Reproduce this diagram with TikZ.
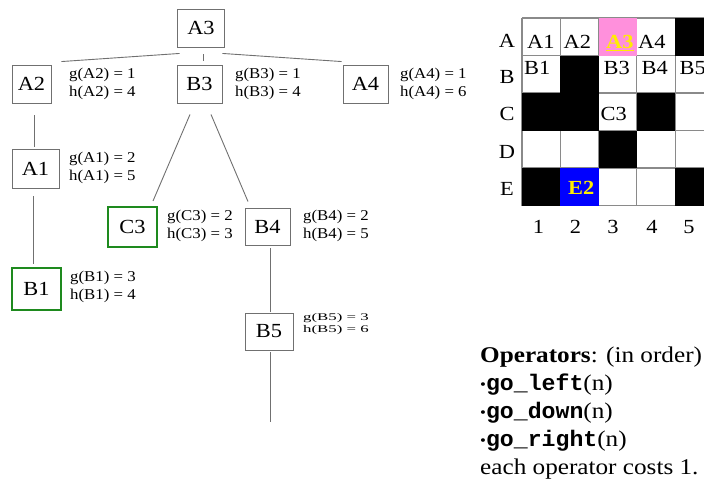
\documentclass[tikz,border=0pt]{standalone}
\usepackage{fontspec}
\usepackage{graphicx}
\setmainfont[FakeStretch=1.12]{Liberation Serif}
\setmonofont[FakeStretch=1.03]{Liberation Mono}
\newcommand\fbx{\fontsize{20}{22}\selectfont}
\newcommand\flab{\fontsize{15}{18}\selectfont}
\newcommand\fop{\fontsize{22.5}{28}\selectfont}
\newcommand\bul{\raisebox{0.5pt}{\fontsize{15}{15}\selectfont •}}
\definecolor{boxgray}{HTML}{707070}
\definecolor{edgegray}{HTML}{707070}
\definecolor{gridgray}{HTML}{8A8A8A}
\definecolor{goalgreen}{HTML}{1E8A1E}
\definecolor{cellpink}{HTML}{FF90DC}
\definecolor{cellblue}{HTML}{0000FF}
\definecolor{txtyellow}{HTML}{FFEE00}
\tikzset{
 bx/.style={draw=boxgray, line width=0.9pt, minimum width=45, minimum height=38, inner sep=0, font=\fbx, fill=white},
 goal/.style={bx, draw=goalgreen, line width=2pt},
 lab/.style={anchor=west, align=left, inner sep=0, font=\flab},
 edge/.style={draw=edgegray, line width=0.9pt},
 gridline/.style={draw=gridgray, line width=1.1pt},
 celltxt/.style={anchor=base west, inner sep=0, font=\fbx},
 axislab/.style={anchor=base, inner sep=0, font=\fbx},
 opline/.style={anchor=base west, inner sep=0, font=\fop},
}
\begin{document}
\begin{tikzpicture}[x=1pt,y=-1pt]
\useasboundingbox (0,0) rectangle (704,490);
\clip (0,0) rectangle (704,490);

% ---------- tree ----------
\node[bx, minimum width=47] (A3) at (201,28) {A3};
\node[bx, minimum width=39] (A2) at (31.5,84) {A2};
\node[bx] (B3) at (199.5,84) {B3};
\node[bx] (A4) at (365.5,84) {A4};
\node[bx, minimum width=47, minimum height=39] (A1) at (35.5,168.5) {A1};
\node[goal, minimum width=49, minimum height=42] (B1) at (36.5,289) {B1};
\node[goal, minimum width=49, minimum height=40] (C3) at (132.5,227) {C3};
\node[bx, minimum height=37] (B4) at (267.5,226.5) {B4};
\node[bx, minimum width=48, minimum height=37] (B5) at (269,331.5) {B5};
\coordinate (B5end) at (270,422);

\node[lab] (lA2) at (69,84) {g(A2) = 1\\h(A2) = 4};
\node[lab] (lB3) at (235,84) {g(B3) = 1\\h(B3) = 4};
\node[lab] (lA4) at (400,84) {g(A4) = 1\\h(A4) = 6};
\node[lab] (lA1) at (69,168) {g(A1) = 2\\h(A1) = 5};
\node[lab] (lC3) at (167,226) {g(C3) = 2\\h(C3) = 3};
\node[lab] (lB4) at (303,226) {g(B4) = 2\\h(B4) = 5};
\node[lab] (lB1) at (70,287) {g(B1) = 3\\h(B1) = 4};
\node[lab] (lB5) at (303,324) {\scalebox{1}[0.68]{\begin{tabular}{@{}l@{}}g(B5) = 3\\h(B5) = 6\end{tabular}}};

\draw[edge] ([shift={(2.5,6)}]A3.south west) -- ([shift={(10,-3)}]A2.north east);
\draw[edge] ([shift={(2,7)}]A3.south) -- ([shift={(3.5,-4)}]B3.north);
\draw[edge] ([shift={(-2.5,6)}]A3.south east) -- ([shift={(-1,-3)}]A4.north west);
\draw[edge] ([shift={(2.5,12)}]A2.south) -- ([shift={(-1.5,-2)}]A1.north);
\draw[edge] ([shift={(-2.5,8)}]A1.south) -- ([shift={(-3.5,-3)}]B1.north);
\draw[edge] ([shift={(-9.5,11)}]B3.south) -- ([shift={(20.5,-5)}]C3.north);
\draw[edge] ([shift={(11.5,11)}]B3.south) -- ([shift={(-19.5,-6)}]B4.north);
\draw[edge] ([shift={(2.5,3)}]B4.south) -- ([shift={(1,-1)}]B5.north);
\draw[edge] ([shift={(1,2)}]B5.south) -- (B5end);

% ---------- grid ----------
\foreach \i in {0,...,5} \draw[gridline] ({522+38.3*\i},18) -- ({522+38.3*\i},205.5);
\foreach \j in {0,...,5} \draw[gridline] (522,{18+37.5*\j}) -- (714,{18+37.5*\j});
\foreach \c/\r in {5/1,2/2,1/3,2/3,4/3,3/4,1/5,5/5}
  \fill[black] ({522+38.3*(\c-1)},{18+37.5*(\r-1)}) rectangle +(38.3,37.5);
\fill[cellpink] ({522+38.3*2},17.5) rectangle +(38.3,38);
\fill[cellblue] ({522+38.3*1},{18+37.5*4}) rectangle +(38.3,37.5);

\node[celltxt] (tA1) at (527,48.5) {A1};
\node[celltxt] (tA2) at (563.5,48.5) {A2};
\node[celltxt, text=txtyellow, font=\fbx\bfseries] (tA3) at (606,48.5) {\underline{A3}};
\node[celltxt] (tA4) at (638,48.5) {A4};
\node[celltxt] (tB1) at (524,74) {B1};
\node[celltxt] (tB3) at (603.5,74) {B3};
\node[celltxt] (tB4) at (641.5,74) {B4};
\node[celltxt] (tB5) at (679.5,74) {B5};
\node[celltxt] (tC3) at (600.5,120) {C3};
\node[celltxt, text=txtyellow, font=\fbx\bfseries] (tE2) at (568,194.5) {E2};

\node[axislab] (rA) at (507,47) {A};
\node[axislab] (rB) at (507,83) {B};
\node[axislab] (rC) at (507,120) {C};
\node[axislab] (rD) at (507,158) {D};
\node[axislab] (rE) at (507,195) {E};
\node[axislab] (c1) at (538.5,233) {1};
\node[axislab] (c2) at (575.5,233) {2};
\node[axislab] (c3) at (613,233) {3};
\node[axislab] (c4) at (652,233) {4};
\node[axislab] (c5) at (689,233) {5};

% ---------- operators ----------
\node[opline] (op1) at (480,362) {\textbf{Operators}: (in order)};
\node[opline] (op2) at (480,390) {\bul\texttt{\textbf{go\_left}}(n)};
\node[opline] (op3) at (480,418) {\bul\texttt{\textbf{go\_down}}(n)};
\node[opline] (op4) at (480,446) {\bul\texttt{\textbf{go\_right}}(n)};
\node[opline] (op5) at (480,474) {each operator costs 1.};
\end{tikzpicture}
\end{document}
